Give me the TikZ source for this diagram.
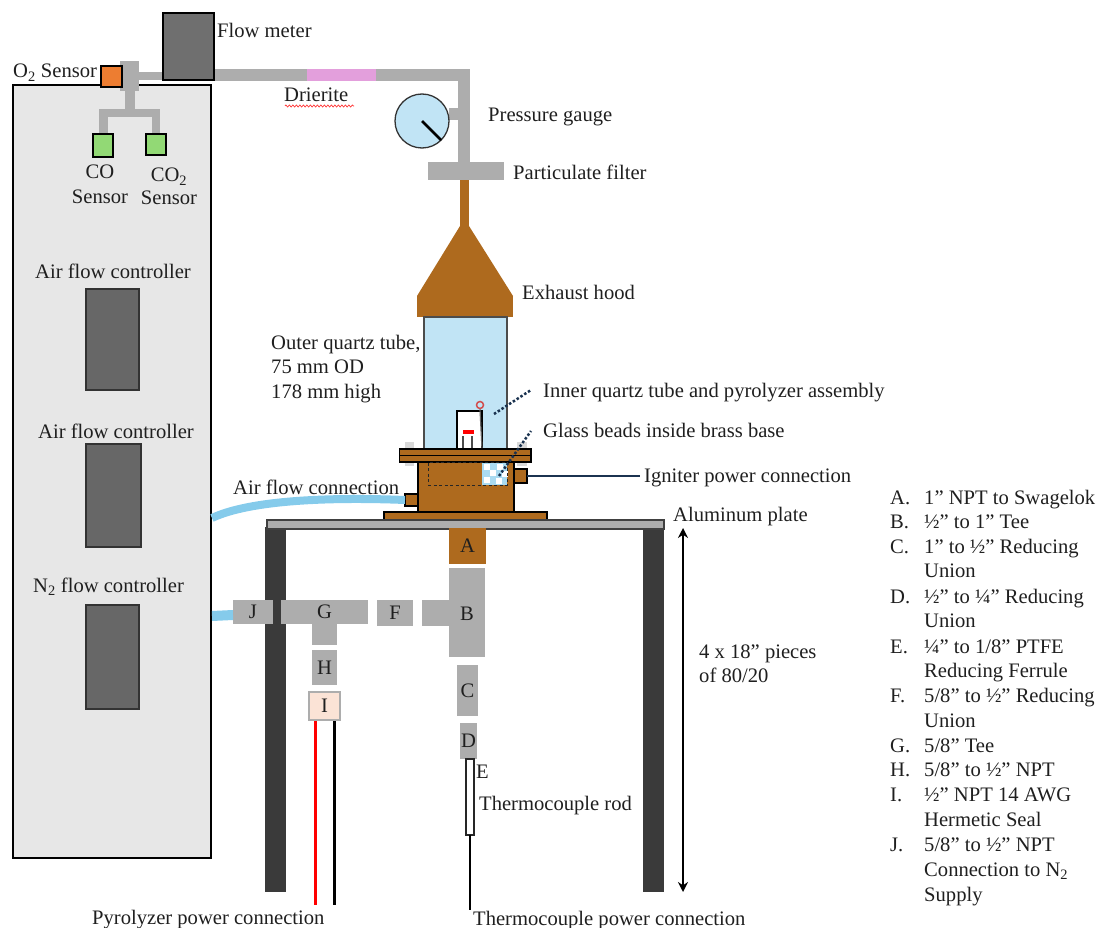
\documentclass[tikz,border=0pt]{standalone}
\usepackage{fontspec}
\setmainfont{Liberation Serif}
\usetikzlibrary{arrows.meta,decorations.pathmorphing}
\definecolor{pipe}{HTML}{ADADAD}
\definecolor{brass}{HTML}{AE6A1E}
\definecolor{panel}{HTML}{E7E7E7}
\definecolor{ctrl}{HTML}{676767}
\definecolor{meter}{HTML}{6F6F6F}
\definecolor{sens}{HTML}{92D975}
\definecolor{otwo}{HTML}{ED7D31}
\definecolor{quartz}{HTML}{C1E4F5}
\definecolor{flow}{HTML}{85CBEB}
\definecolor{pink}{HTML}{E39FDC}
\definecolor{leg}{HTML}{3A3A3A}
\definecolor{navy}{HTML}{1B3350}
\definecolor{seal}{HTML}{FBE3D6}
\tikzset{
  every node/.style={font=\fontsize{20.6}{24}\selectfont,text=black!88},
  pipebox/.style={fill=pipe},
  brassbox/.style={fill=brass,draw=black,line width=1.5pt},
  brasspipe/.style={fill=brass},
  sensorbox/.style={fill=sens,draw=black,line width=2.5pt},
  ctrlbox/.style={fill=ctrl,draw=black!80,line width=1.8pt},
  legbox/.style={fill=leg},
  lead/.style={navy,line width=2.5pt,dash pattern=on 2.5pt off 2pt},
  flowline/.style={flow,line width=8pt},
  wire/.style={line width=3pt}
}
\newcommand{\pb}[7]{%
  \pgfmathsetlengthmacro{\pbw}{#4-#2}\pgfmathsetlengthmacro{\pbh}{#5-#3}%
  \pgfmathsetmacro{\pbx}{(#2+#4)/2}\pgfmathsetmacro{\pby}{(#3+#5)/2}%
  \node[inner sep=0pt,outer sep=0pt,minimum width=\pbw,minimum height=\pbh,#6] (#1) at (\pbx,\pby) {#7};}
\newcommand{\lab}[4]{\node[anchor=base west,inner sep=0pt,yshift=-1pt] (#1) at (#2,#3) {#4};}
\newcommand{\ctr}[4]{\node[anchor=base,inner sep=0pt,yshift=-1pt] (#1) at (#2,#3) {#4};}
\newcommand{\leg}[4]{\lab{ll#1}{890}{#3}{#2}\lab{lt#1}{924}{#3}{#4}}
\begin{document}
\begin{tikzpicture}[x=1pt,y=-1pt]
\useasboundingbox (0,0) rectangle (1098,928);
% cabinet
\pb{cabinet}{13}{85}{211}{858}{fill=panel,draw=black,line width=2.5pt}{}
\pb{afc1}{86}{289}{139}{390}{ctrlbox}{}
\pb{afc2}{86}{444}{141}{547}{ctrlbox}{}
\pb{nfc}{86}{605}{139}{709}{ctrlbox}{}
% sample lines
\pb{tee}{120}{61}{139}{91}{pipebox}{}
\pb{teeh}{139}{72}{163}{80}{pipebox}{}
\pb{drop}{125}{91}{135}{110}{pipebox}{}
\pb{split}{99}{109}{160}{117}{pipebox}{}
\pb{dropa}{99}{117}{108}{134}{pipebox}{}
\pb{dropb}{152}{117}{160}{134}{pipebox}{}
\pb{cosens}{93}{134}{113}{157}{sensorbox}{}
\pb{cotwosens}{146}{134}{166}{155}{sensorbox}{}
\pb{otwosens}{101}{66}{122}{87}{fill=otwo,draw=black,line width=2.5pt}{}
% exhaust line
\pb{lineh}{214}{69}{470}{81}{pipebox}{}
\pb{drier}{307}{69}{376}{81}{fill=pink}{}
\pb{linev}{458}{69}{470}{165}{pipebox}{}
\pb{stem}{449}{108}{458}{120}{pipebox}{}
\pb{filter}{428}{162}{504}{180}{pipebox}{}
\pb{fmeter}{163}{13}{214}{80}{fill=meter,draw=black,line width=2.5pt}{}
\node[circle,fill=quartz,draw=black!80,line width=1.3pt,minimum size=54pt,inner sep=0pt] (gauge) at (422,121) {};
\coordinate (needle) at (441,140);
\draw[line width=2.5pt,black] (gauge.center) -- (needle);
% hood
\pb{neck}{460}{180}{469}{228}{brasspipe}{}
\fill[brass] (460,226) -- (469,226) -- (513,296) -- (417,296) -- cycle;
\pb{hoodbase}{417}{296}{513}{317}{brasspipe}{}
% quartz tube
\pb{tube}{424}{317}{507}{449}{fill=quartz,draw=black!70,line width=1.3pt}{}
\pb{inner}{457}{411}{482}{449}{fill=white,draw=black,line width=1.5pt}{}
\pb{heater}{463}{430}{474}{434}{fill=red}{}
\coordinate (lega) at (463,436); \coordinate (legb) at (472,436);
\coordinate (legaa) at (463,449); \coordinate (legbb) at (472,449);
\draw[black!70,line width=1.2pt] (lega) -- (legaa) (legb) -- (legbb);
\node[circle,draw=red!75!black!70,line width=1.5pt,minimum size=7pt,inner sep=0pt] (loop) at (480,405) {};
\coordinate (loopb) at (482,449);
\draw[black!60,line width=1.2pt] (loop.south) -- (loopb);
% brass base
\pb{bolta}{405}{442}{414}{466}{fill=black!15}{}
\pb{boltb}{517}{442}{527}{466}{fill=black!15}{}
\pb{flangea}{399.5}{449}{531}{455.5}{brassbox}{}
\pb{flangeb}{399.5}{455.5}{531}{462}{brassbox}{}
\pb{body}{418}{462}{514}{512}{brassbox}{}
\pb{beads}{482}{463}{507}{485}{fill=flow!70}{}
\foreach \a/\b in {484/464,497/464,490/470,502/471,484/477,496/478}
  \fill[white] (\a,\b) rectangle +(6,6);
\pb{cavity}{428}{462}{507}{485}{draw=black!85,line width=1pt,dash pattern=on 3pt off 2.5pt}{}
\coordinate (cavb) at (482,485);
\pb{igncon}{514}{469}{527}{483}{brassbox}{}
\pb{aircon}{405}{494}{418}{506}{brassbox}{}
\pb{foot}{384}{512}{547}{520}{brassbox}{}
% plate and legs
\pb{legl}{265}{527}{286}{892}{legbox}{}
\pb{legr}{643}{527}{664}{892}{legbox}{}
\pb{plate}{267}{520}{664}{529}{fill=pipe,draw=black!75,line width=1.3pt}{}
% air & N2
\coordinate (airstart) at (212,518);
\coordinate (nstart) at (212,616);
\coordinate (nend) at (233,615);
\draw[flowline] (airstart) .. controls (250,500) and (330,497) .. (aircon.west);
\pb{J}{233}{600}{273}{624}{pipebox}{J}
\draw[flow,line width=10pt] (nstart) -- (nend);
% fittings
\pb{A}{449}{528}{486}{564}{brasspipe}{A}
\pb{Bv}{449}{568}{485}{657}{pipebox}{}
\pb{Bh}{422}{600}{449}{626}{pipebox}{}
\pb{C}{457}{665}{478}{716}{pipebox}{C}
\pb{D}{460}{723}{477}{759}{pipebox}{D}
\pb{Etube}{466}{759}{474}{835}{fill=white,draw=black!85,line width=1.3pt}{}
\pb{F}{377}{600}{413}{626}{pipebox}{F}
\pb{G}{281}{600}{368}{624}{pipebox}{G}
\pb{Gs}{312}{624}{337}{645}{pipebox}{}
\pb{H}{312}{650}{337}{685}{pipebox}{H}
\pb{I}{309}{692}{340}{720}{fill=seal,draw=pipe,line width=2.5pt}{I}
% wires
\coordinate (ra) at (315,721); \coordinate (rb) at (315,905);
\coordinate (ka) at (334,721); \coordinate (kb) at (334,905);
\coordinate (tb) at (470,910);
\draw[wire,red] (ra) -- (rb);
\draw[wire,black] (ka) -- (kb);
\draw[black,line width=1.5pt] (Etube.south) -- (tb);
\coordinate (igend) at (640,476);
\draw[navy,line width=2.5pt] (igncon.east) -- (igend);
% dotted leads
\coordinate (la) at (494,414); \coordinate (lb) at (531,390);
\coordinate (lc) at (499,476); \coordinate (ld) at (531,431);
\draw[lead] (la) -- (lb);
\draw[lead] (lc) -- (ld);
% height arrow
\coordinate (ha) at (683,528); \coordinate (hb) at (683,892);
\draw[black,line width=2.5pt,{Stealth[length=10pt,width=10pt]}-{Stealth[length=10pt,width=10pt]}] (ha) -- (hb);
% labels
\lab{tflow}{217}{37}{Flow meter}
\lab{tox}{13}{77}{O\textsubscript{2} Sensor}
\lab{tdri}{284}{101}{Drierite}
\coordinate (wa) at (285,106); \coordinate (wb) at (354,106);
\draw[red!80,line width=.7pt,decorate,decoration={zigzag,amplitude=1pt,segment length=3.5pt}] (wa) -- (wb);
\lab{tpg}{488}{121}{Pressure gauge}
\lab{tpf}{513}{179}{Particulate filter}
\lab{teh}{522}{298}{Exhaust hood}
\lab{tq1}{271}{348}{Outer quartz tube,}
\lab{tq2}{271}{372}{75 mm OD}
\lab{tq3}{271}{397}{178 mm high}
\lab{tiq}{543}{396}{Inner quartz tube and pyrolyzer assembly}
\lab{tgb}{543}{436}{Glass beads inside brass base}
\lab{tig}{644}{481}{Igniter power connection}
\lab{taf}{233}{493}{Air flow connection}
\lab{tal}{673}{520}{Aluminum plate}
\lab{tp1}{699}{657}{4 x 18” pieces}
\lab{tp2}{699}{681}{of 80/20}
\lab{tE}{476}{777}{E}
\lab{ttr}{479}{809}{Thermocouple rod}
\lab{tB}{460}{619}{B}
\lab{tpy}{92}{923}{Pyrolyzer power connection}
\lab{ttp}{473}{924}{Thermocouple power connection}
\lab{tc1}{35}{277}{Air flow controller}
\lab{tc2}{38}{437}{Air flow controller}
\lab{tc3}{33}{591}{N\textsubscript{2} flow controller}
\ctr{tco1}{100}{178}{CO}
\ctr{tco2}{100}{203}{Sensor}
\ctr{tct1}{169}{181}{CO\textsubscript{2}}
\ctr{tct2}{169}{204}{Sensor}
% legend
\leg{a}{A.}{503}{1” NPT to Swagelok}
\leg{b}{B.}{527}{½” to 1” Tee}
\leg{c}{C.}{552}{1” to ½” Reducing}
\leg{d}{D.}{602}{½” to ¼” Reducing}
\leg{e}{E.}{652}{¼” to 1/8” PTFE}
\leg{f}{F.}{701}{5/8” to ½” Reducing}
\leg{g}{G.}{751}{5/8” Tee}
\leg{h}{H.}{775}{5/8” to ½” NPT}
\leg{i}{I.}{800}{½” NPT 14 AWG}
\leg{j}{J.}{850}{5/8” to ½” NPT}
\lab{lc2}{924}{576}{Union}
\lab{ld2}{924}{626}{Union}
\lab{le2}{924}{676}{Reducing Ferrule}
\lab{lf2}{924}{726}{Union}
\lab{li2}{924}{825}{Hermetic Seal}
\lab{lj2}{924}{875}{Connection to N\textsubscript{2}}
\lab{lj3}{924}{900}{Supply}
\end{tikzpicture}
\end{document}
